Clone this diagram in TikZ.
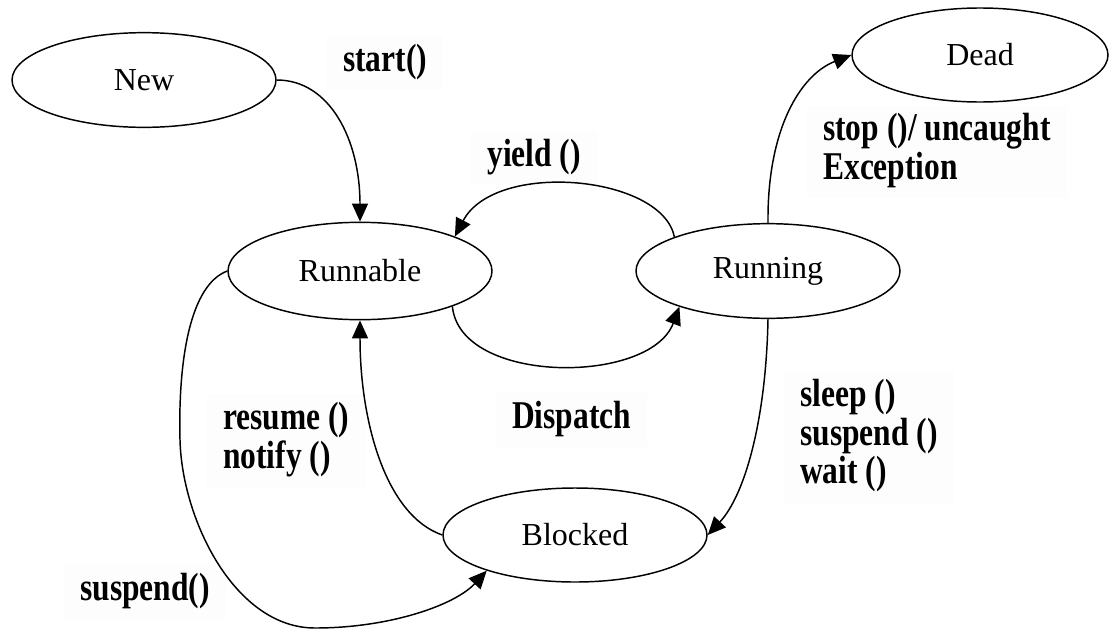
\documentclass[tikz,border=0pt]{standalone}
\usepackage{fontspec}
\usepackage{graphicx}
\setmainfont{Liberation Serif}
\usetikzlibrary{shapes.geometric,arrows.meta}
% bold transition text, set a little taller than wide
\newcommand{\tallbold}[1]{\scalebox{1}[1.25]{\begin{tabular}{@{}l@{}}#1\end{tabular}}}
\begin{document}
\begin{tikzpicture}[x=0.75pt,y=-0.75pt,
  state/.style={ellipse,draw,line width=1.1pt,minimum width=198pt,minimum height=71pt,
    inner sep=0pt,font=\fontsize{24}{28}\selectfont},
  lbl/.style={anchor=west,inner xsep=12pt,inner ysep=6pt,fill=black!0.6,
    font=\fontsize{23.6}{22.2}\selectfont\bfseries},
  trans/.style={line width=1.1pt,-{Triangle[length=13.5pt,width=12pt]}}]
\fill[white] (0,0) rectangle (1109,632);
\useasboundingbox (0,0) rectangle (1109,632);

% transition labels, drawn first so their boxes stay behind
\node[lbl] (lstart) at (327,63)  {\tallbold{start()}};
\node[lbl] (lyield) at (471,158) {\tallbold{yield ()}};
\node[lbl] (lstop)  at (807,152) {\tallbold{stop ()/ uncaught\\Exception}};
\node[lbl] (ldisp)  at (496,420) {\tallbold{Dispatch}};
\node[lbl] (lres)   at (207,441) {\tallbold{resume ()\\notify ()}};
\node[lbl] (lsleep) at (784,437) {\tallbold{sleep ()\\suspend ()\\wait ()}};
\node[lbl] (lsusp)  at (64,592)  {\tallbold{suspend()}};

% thread states
\node[state] (new)      at (144,80)  {New};
\node[state,minimum width=192pt,minimum height=70.5pt] (dead) at (980,55) {Dead};
\node[state,minimum height=73pt] (runnable) at (360,271) {Runnable};
\node[state] (running)  at (768,271) {Running};
\node[state,minimum height=70.5pt] (blocked)  at (575,535) {Blocked};

% transitions
\draw[trans] (new.east) .. controls (330,80) and (360,140) .. (runnable.north);
\draw[trans] (running.160) .. controls (662,175) and (495,160) .. (runnable.20);
\draw[trans] (runnable.-21) .. controls (460,385) and (650,385) .. (running.202);
\draw[trans] (running.north) .. controls (767,130) and (800,75) .. (dead.west);
\draw[trans] (running.south) .. controls (766,420) and (745,495) .. (blocked.east);
\draw[trans] (blocked.west) .. controls (385,515) and (360,420) .. (runnable.south);
\draw[trans] (runnable.west) .. controls (190,285) and (178,360) .. (180,440)
  .. controls (182,520) and (235,628) .. (315,628)
  .. controls (390,628) and (455,605) .. (blocked.202);
\end{tikzpicture}
\end{document}
